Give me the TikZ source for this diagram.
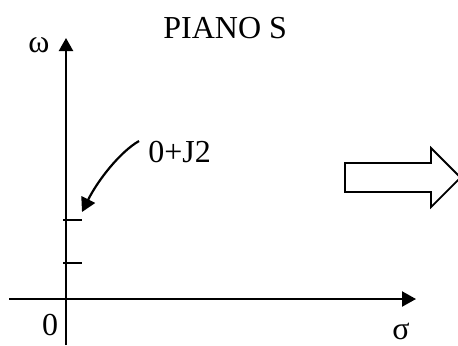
\documentclass[tikz,border=0pt]{standalone}
\usepackage{fontspec}
\setmainfont{Liberation Serif}
\usetikzlibrary{arrows.meta}
\tikzset{
  axis/.style={line width=1.1pt},
  lbl/.style={inner sep=0pt, font=\fontsize{16}{19}\selectfont},
  tick/.style={line width=1.1pt},
  blockarrow/.style={line width=0.9pt, fill=white, line join=miter},
}
\begin{document}
\begin{tikzpicture}[x=0.5pt,y=-0.5pt]
\useasboundingbox (0,0) rectangle (458,345);
% axes
\coordinate (vbot) at (66,345);
\coordinate (vtop) at (66,38);
\coordinate (hleft) at (9,299);
\coordinate (hright) at (416,299);
\draw[axis,-{Triangle[length=6.5pt,width=7pt]}] (vbot) -- (vtop);
\draw[axis,-{Triangle[length=7pt,width=7.5pt]}] (hleft) -- (hright);
% ticks
\coordinate (t1a) at (63,220); \coordinate (t1b) at (82,220);
\coordinate (t2a) at (63,263); \coordinate (t2b) at (82,263);
\draw[tick] (t1a) -- (t1b);
\draw[tick] (t2a) -- (t2b);
% labels
\node[lbl,anchor=base west] (title) at (163,38) {PIANO S};
\node[lbl,anchor=base] (omega) at (39,52) {ω};
\node[lbl,anchor=base] (zero) at (50,335) {0};
\node[lbl,anchor=base] (sigma) at (401,339) {σ};
\node[lbl,anchor=base west] (pt) at (148,162) {0+J2};
% curved pointer
\coordinate (cs) at (139,141);
\coordinate (ce) at (82,212);
\draw[line width=1.1pt,-{Triangle[length=7pt,width=7.5pt]}] (cs) .. controls (120,152) and (98,180) .. (ce);
% block arrow
\draw[blockarrow] (345,163) -- (431,163) -- (431,148) -- (460.5,177.5) -- (431,207) -- (431,192) -- (345,192) -- cycle;
\end{tikzpicture}
\end{document}
